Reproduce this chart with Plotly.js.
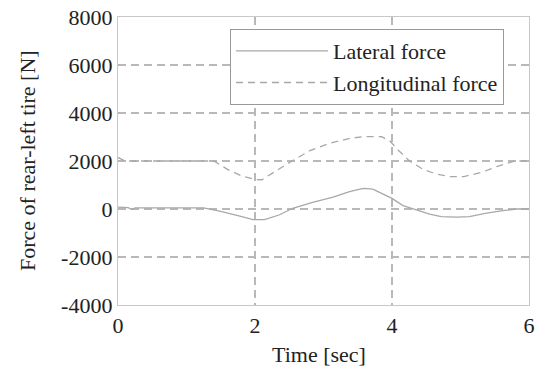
<!DOCTYPE html>
<html>
<head>
<meta charset="utf-8">
<script src="https://cdn.plot.ly/plotly-3.0.1.min.js"></script>
<style>html,body{margin:0;padding:0;background:#fff;}#chart{width:542px;height:372px;}</style>
</head>
<body>
<div id="chart"></div>
<script>
// Time [sec] and force [N]
const timeLateral = [0, 0.15, 0.2, 0.25, 1.25, 1.5, 1.78, 1.97, 2.14, 2.36, 2.55, 2.84, 3.14, 3.38, 3.58, 3.72, 3.87, 4.0, 4.16, 4.36, 4.55, 4.72, 4.94, 5.13, 5.38, 5.62, 5.82, 6.0];
const lateralForce = [80, 60, -20, 50, 50, -100, -300, -440, -440, -240, 30, 280, 490, 720, 860, 830, 620, 440, 140, -30, -210, -320, -340, -320, -170, -70, 0, 0];
const timeLongitudinal = [0, 0.1, 1.4, 1.6, 1.8, 2.0, 2.1, 2.2, 2.5, 2.8, 3.1, 3.4, 3.6, 3.85, 3.97, 4.1, 4.25, 4.45, 4.65, 4.85, 5.05, 5.3, 5.55, 5.8, 6.0];
const longitudinalForce = [2150, 2000, 2000, 1650, 1380, 1230, 1220, 1400, 1930, 2430, 2750, 2950, 3020, 3010, 2830, 2430, 2010, 1660, 1450, 1350, 1350, 1520, 1790, 2000, 2000];
const seriesNames = ["Lateral force", "Longitudinal force"];
const xTicks = [0, 2, 4, 6];
const xTickText = ["0", "2", "4", "6"];
const yTicks = [-4000, -2000, 0, 2000, 4000, 6000, 8000];
const yTickText = ["-4000", "-2000", "0", "2000", "4000", "6000", "8000"];
const xTitle = "Time [sec]";
const yTitle = "Force of rear-left tire [N]";

const font = {family: "Liberation Serif", size: 22, color: "#222"};
const traces = [
  {x: timeLateral, y: lateralForce, name: seriesNames[0], type: "scatter", mode: "lines",
   line: {color: "#a8a8a8", width: 1.3}},
  {x: timeLongitudinal, y: longitudinalForce, name: seriesNames[1], type: "scatter", mode: "lines",
   line: {color: "#a8a8a8", width: 1.3, dash: "7px,5px"}}
];
const axisCommon = {
  showline: true, mirror: true, linecolor: "#c8c8c8", linewidth: 1.2,
  showgrid: true, gridcolor: "#b8b8b8", gridwidth: 1.2, griddash: "8px,5px",
  zeroline: false, ticks: "", tickfont: font
};
const layout = {
  width: 542, height: 372,
  margin: {l: 118, r: 13, t: 17, b: 67},
  paper_bgcolor: "#fff", plot_bgcolor: "#fff",
  font: font,
  showlegend: true,
  legend: {x: 0.2725, y: 0.958, xanchor: "left", yanchor: "top",
    bordercolor: "#999", borderwidth: 1, bgcolor: "#fff",
    font: font, itemwidth: 92, tracegroupgap: 0},
  xaxis: Object.assign({}, axisCommon, {range: [0, 6], tickvals: xTicks, ticktext: xTickText}),
  yaxis: Object.assign({}, axisCommon, {range: [-4000, 8000], tickvals: yTicks, ticktext: yTickText}),
  annotations: [
    {text: xTitle, xref: "paper", yref: "paper", x: 0.49, y: -0.1736,
     xanchor: "center", yanchor: "middle", showarrow: false, font: font},
    {text: yTitle, xref: "paper", yref: "paper", x: -0.2214, y: 0.5, textangle: -90,
     xanchor: "center", yanchor: "middle", showarrow: false, font: font}
  ]
};
Plotly.newPlot("chart", traces, layout, {displayModeBar: false, staticPlot: true});
</script>
</body>
</html>
